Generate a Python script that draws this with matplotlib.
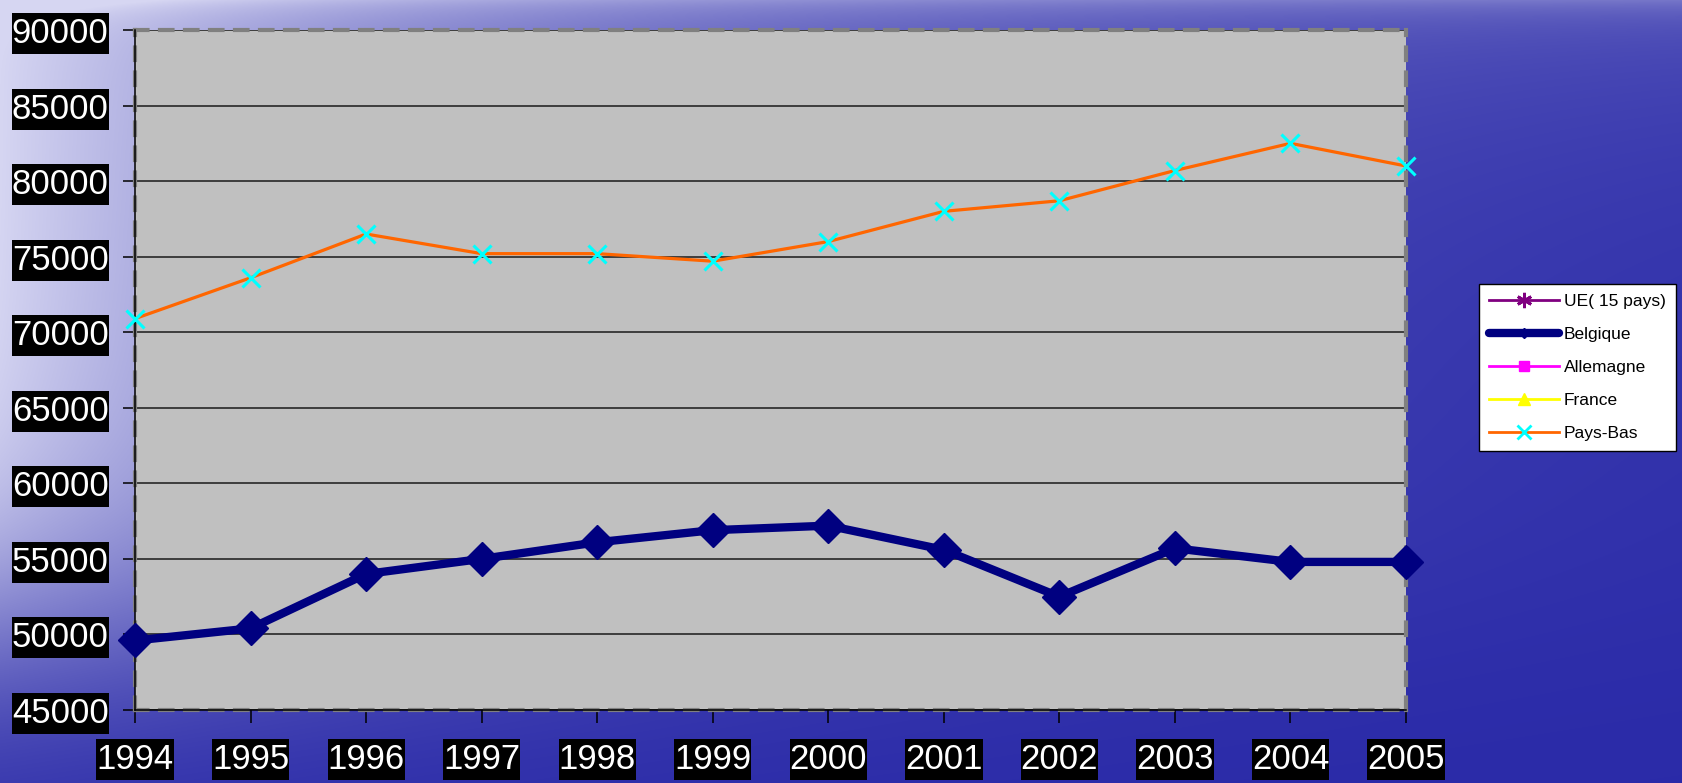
import numpy as np
import matplotlib
matplotlib.use("Agg")
import matplotlib.pyplot as plt
from matplotlib.lines import Line2D
from matplotlib.patches import Rectangle
from matplotlib.transforms import IdentityTransform

plt.rcParams['font.family'] = ['Liberation Sans', 'DejaVu Sans']

# ---- data ----
years = ['1994', '1995', '1996', '1997', '1998', '1999', '2000',
         '2001', '2002', '2003', '2004', '2005']
belgique = [49600, 50400, 54000, 55000, 56100, 56900, 57200,
            55600, 52500, 55700, 54800, 54800]
pays_bas = [70900, 73600, 76500, 75200, 75200, 74700, 76000,
            78000, 78700, 80700, 82500, 81000]
ue15 = []        # not visible within the plotted range
allemagne = []   # not visible within the plotted range
france = []      # not visible within the plotted range
series_names = ['UE( 15 pays)', 'Belgique', 'Allemagne', 'France', 'Pays-Bas']
y_ticks = [45000, 50000, 55000, 60000, 65000, 70000, 75000, 80000, 85000, 90000]

W, H = 1683, 783
fig = plt.figure(figsize=(W / 100, H / 100), dpi=100)

# ---- background gradient ----
bg = fig.add_axes([0, 0, 1, 1], zorder=-10)
yy, xx = np.mgrid[0:H, 0:W].astype(float)
fx = np.exp(-xx / 550.0)
fy = 1.0 / (1.0 + np.exp((yy - 620.0) / 75.0))
w = fx * fy + 0.2 * np.exp(-yy / 130.0) * (1 - fx) + 0.2 * np.exp(-yy / 15.0)
w = np.clip(w, 0, 1)
deep = np.array([42, 42, 168]) / 255.0
light = np.array([214, 214, 242]) / 255.0
img = deep[None, None, :] + (light - deep)[None, None, :] * w[..., None]
bg.imshow(img, aspect='auto', extent=[0, 1, 0, 1], origin='upper')
bg.set_axis_off()

# ---- main axes ----
left, right, top, bottom = 135, 1406, 30, 710
ax = fig.add_axes([left / W, 1 - bottom / H, (right - left) / W, (bottom - top) / H])
ax.set_facecolor('#c0c0c0')

x = np.arange(len(years))
ax.plot(x[:len(ue15)], ue15, color='#800080', marker=(6, 2, 0), lw=1.5)
ax.plot(x, belgique, color='#000080', lw=6, marker='D', markersize=17,
        solid_joinstyle='round', clip_on=False, zorder=5)
ax.plot(x[:len(allemagne)], allemagne, color='#ff00ff', marker='s', lw=1.5)
ax.plot(x[:len(france)], france, color='#ffff00', marker='^', lw=1.5)
ax.plot(x, pays_bas, color='#ff6600', lw=2.3, marker='x', markersize=13,
        markeredgecolor='#00ffff', markeredgewidth=2.2, clip_on=False, zorder=5)

ax.set_xlim(0, len(years) - 1)
ax.set_ylim(y_ticks[0], y_ticks[-1])
ax.set_yticks(y_ticks)
ax.set_xticks(x)
ax.set_xticklabels(years)
ax.yaxis.grid(True, color='#1a1a1a', lw=1.1)
ax.set_axisbelow(True)

for s in ax.spines.values():
    s.set_color('#808080')
    s.set_linewidth(3)
    s.set_linestyle((0, (3, 3)))
# black axis lines
ax.plot([0, 0], [0, 1], transform=ax.transAxes, color='black', lw=1.1, clip_on=False, zorder=4)
ax.plot([0, 1], [0, 0], transform=ax.transAxes, color='black', lw=1.1, clip_on=False, zorder=4)

ax.tick_params(axis='both', direction='out', length=9, width=1.1, color='black',
               labelsize=25, labelcolor='white')
ax.tick_params(axis='y', pad=10)
ax.tick_params(axis='x', pad=15)

# ---- legend (custom handles, like the original small markers) ----
handles = [
    Line2D([], [], color='#800080', lw=2, marker=(6, 2, 0), markersize=11, markeredgewidth=2),
    Line2D([], [], color='#000080', lw=6, marker='D', markersize=5, solid_capstyle='round'),
    Line2D([], [], color='#ff00ff', lw=2, marker='s', markersize=7),
    Line2D([], [], color='#ffff00', lw=2, marker='^', markersize=9),
    Line2D([], [], color='#ff6600', lw=2, marker='x', markersize=10,
           markeredgecolor='#00ffff', markeredgewidth=2),
]
leg = fig.legend(handles, series_names, loc='center left',
                 bbox_to_anchor=(1479 / W, 1 - 367.5 / H),
                 bbox_transform=fig.transFigure, fontsize=12.5, frameon=True,
                 fancybox=False, edgecolor='black', facecolor='white', framealpha=1,
                 handlelength=4.0, handletextpad=0.3, labelspacing=1.02,
                 borderpad=0.6, borderaxespad=0)
leg.get_frame().set_linewidth(1.0)

# ---- black boxes behind tick labels (PowerPoint style) ----
fig.canvas.draw()
renderer = fig.canvas.get_renderer()
for lab, (px, py) in [(l, (0, 4)) for l in ax.get_yticklabels()] + \
                     [(l, (0, 4)) for l in ax.get_xticklabels()]:
    if not lab.get_visible() or not lab.get_text():
        continue
    bb = lab.get_window_extent(renderer)
    fig.add_artist(Rectangle((bb.x0 - px, bb.y0 - py), bb.width + 2 * px, bb.height + 2 * py,
                             transform=IdentityTransform(), facecolor='black',
                             edgecolor='none', zorder=-5))

fig.savefig('out.png', dpi=100)
